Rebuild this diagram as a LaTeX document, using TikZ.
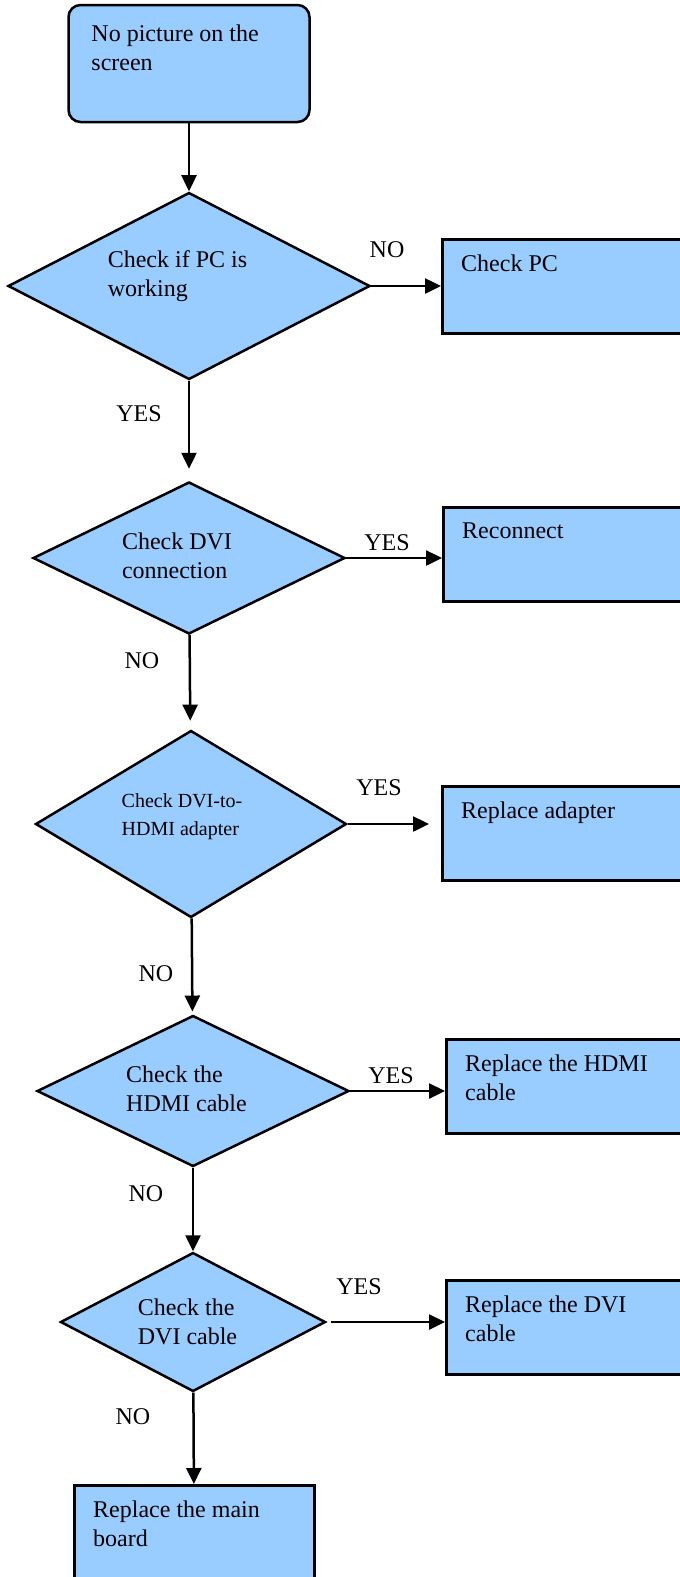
\documentclass[tikz,border=0pt]{standalone}
\usepackage{fontspec}
\setmainfont{Liberation Serif}
\usetikzlibrary{arrows.meta,shapes.geometric}
\definecolor{boxblue}{HTML}{99CCFF}

\begin{document}
\begin{tikzpicture}[
        x=1pt, y=-1pt,
        every node/.style={font=\fontsize{24}{29}\selectfont},
        start/.style={draw, fill=boxblue, line width=2.5pt, rounded corners=12pt, inner sep=0pt},
        box/.style={draw, fill=boxblue, line width=2.5pt, anchor=north west, minimum height=94pt, inner sep=0pt},
        decision/.style={draw, fill=boxblue, line width=2.5pt, diamond, inner sep=0pt},
        boxtext/.style={anchor=north west, xshift=20pt, yshift=-17pt, align=left, inner sep=0pt},
        dtext/.style={align=left, inner sep=0pt},
        tag/.style={inner sep=0pt},
        arrow/.style={-{Triangle[length=16pt,width=15pt]}, line width=2.5pt}
    ]
        \useasboundingbox (0,0) rectangle (680,1577);
        \clip (0,0) rectangle (680,1577);

        \node[start, minimum width=241pt, minimum height=117pt,
            label={[boxtext, xshift=4pt, yshift=-4pt]north west:{No picture on the\\screen}}] (start) at (189,63.5) {};

        % the text in the diamonds sits a little up and left of the centre
        \node[decision, minimum width=362pt, minimum height=187pt,
            label={[dtext, xshift=-11.5pt, yshift=9.6pt]center:{Check if PC is\\working}}] (pcok) at (189,286) {};
        \node[box, minimum width=260pt, label={[boxtext]north west:Check PC}] (checkpc) at (441,238) {};

        \node[decision, minimum width=312pt, minimum height=152pt,
            label={[dtext, xshift=-12pt, yshift=2.2pt]center:{Check DVI\\connection}}] (dviconn) at (189,558) {};
        \node[box, minimum width=260pt, label={[boxtext]north west:Reconnect}] (reconnect) at (442,506) {};

        \node[decision, minimum width=311pt, minimum height=187pt,
            label={[dtext, xshift=-9pt, yshift=7.7pt, font=\fontsize{20}{28}\selectfont]center:{Check DVI-to-\\HDMI adapter}}] (adapter) at (191,824) {};
        \node[box, minimum width=260pt, label={[boxtext]north west:Replace adapter}] (repadapter) at (441,785) {};

        \node[decision, minimum width=312pt, minimum height=151pt,
            label={[dtext, xshift=-6.5pt, yshift=2.2pt]center:{Check the\\HDMI cable}}] (hdmicab) at (193,1091) {};
        \node[box, minimum width=260pt, label={[boxtext]north west:{Replace the HDMI\\cable}}] (rephdmi) at (445,1038) {};

        \node[decision, minimum width=265pt, minimum height=139pt,
            label={[dtext, xshift=-5.5pt]center:{Check the\\DVI cable}}] (dvicab) at (193,1322) {};
        \node[box, minimum width=260pt, label={[boxtext]north west:{Replace the DVI\\cable}}] (repdvi) at (445,1279) {};

        \node[box, minimum width=240pt, minimum height=130pt,
            label={[boxtext]north west:{Replace the main\\board}}] (board) at (73,1484) {};

        % branch labels
        \node[tag] (no1) at (387,250) {NO};
        \node[tag] (yes1) at (139,414) {YES};
        \node[tag] (yes2) at (387,543) {YES};
        \node[tag] (no2) at (142,661) {NO};
        \node[tag] (yes3) at (379,788) {YES};
        \node[tag] (no3) at (156,974) {NO};
        \node[tag] (yes4) at (391,1076) {YES};
        \node[tag] (no4) at (146,1194) {NO};
        \node[tag] (yes5) at (359,1287) {YES};
        \node[tag] (no5) at (133,1417) {NO};

        \draw[arrow] (start) -- (pcok);
        \draw[arrow] (pcok) -- (pcok -| checkpc.west);
        \draw[arrow, shorten >=12pt] (pcok) -- (dviconn);
        \draw[arrow] (dviconn) -- (dviconn -| reconnect.west);
        \draw[arrow, shorten >=9pt] (dviconn) -- (adapter);
        \draw[arrow, shorten >=12pt] (adapter) -- (adapter -| repadapter.west);
        \draw[arrow, shorten >=3pt] (adapter) -- (hdmicab);
        \draw[arrow] (hdmicab) -- (hdmicab -| rephdmi.west);
        \draw[arrow] (hdmicab) -- (dvicab);
        \draw[arrow, shorten <=4pt] (dvicab) -- (dvicab -| repdvi.west);
        \draw[arrow] (dvicab) -- (board);
    \end{tikzpicture}
\end{document}
